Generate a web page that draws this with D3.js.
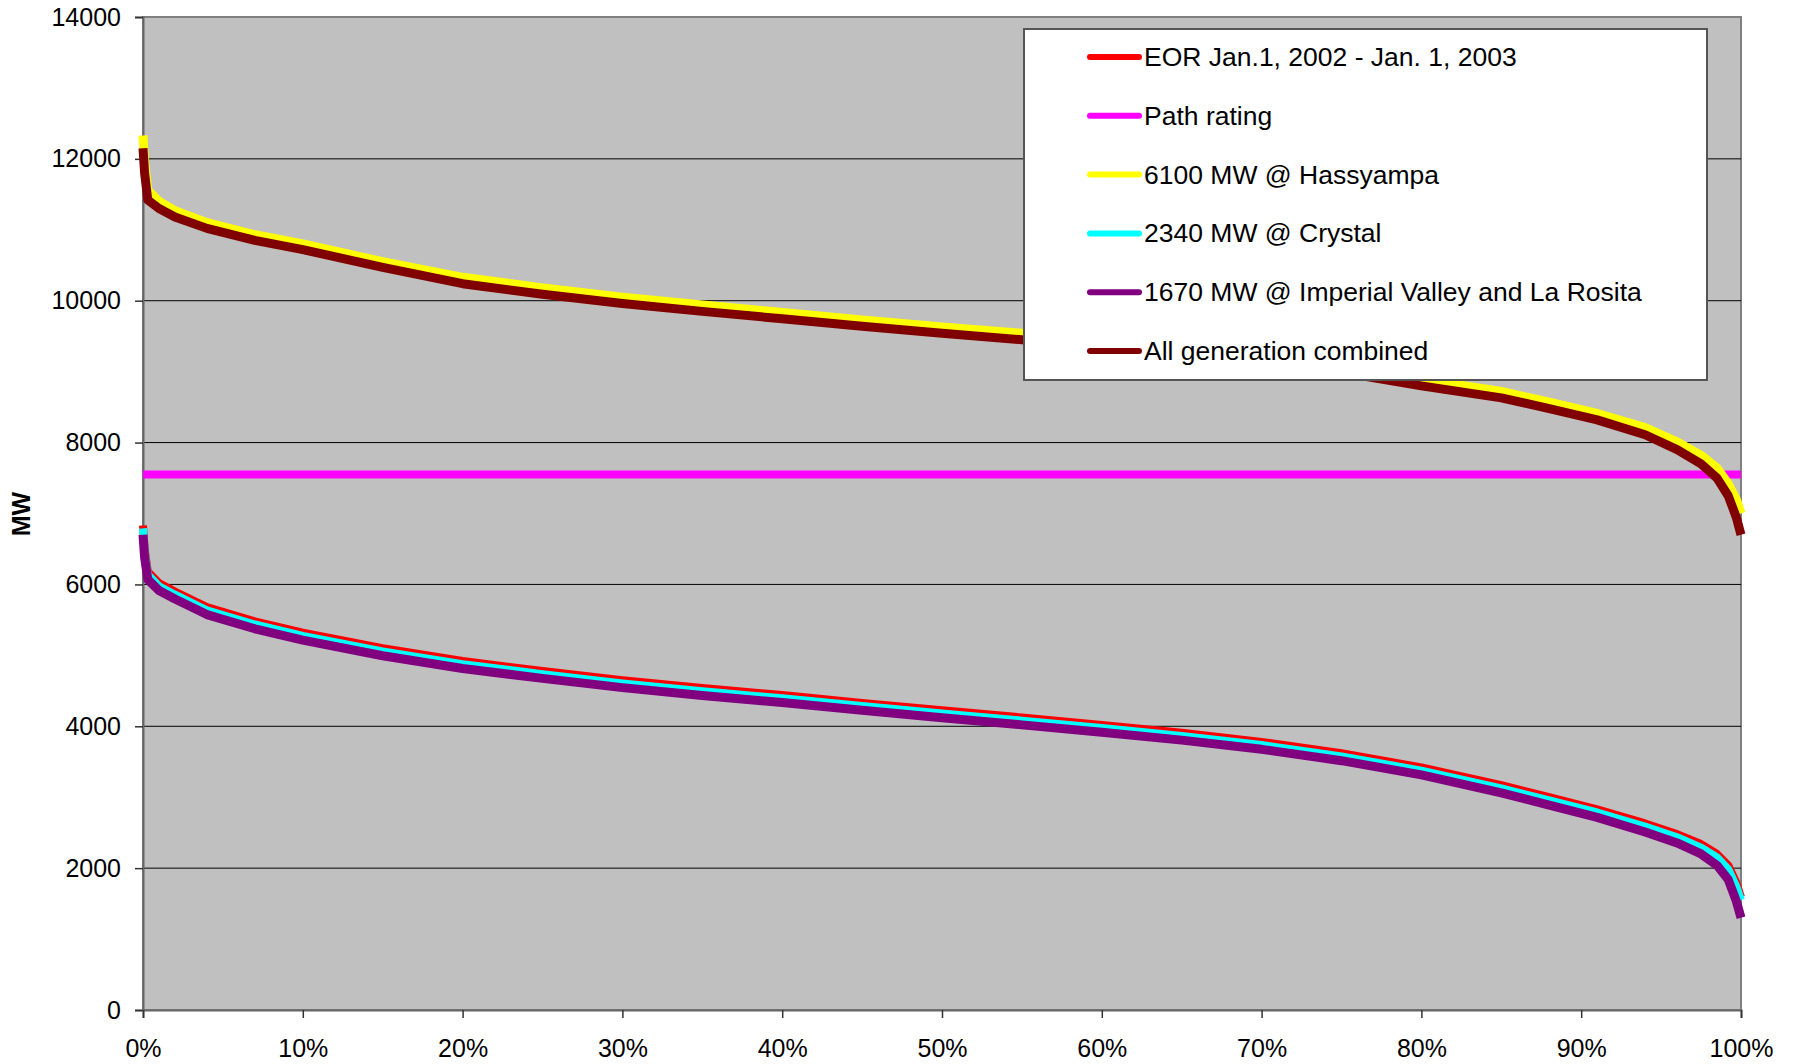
<!DOCTYPE html>
<html>
<head>
<meta charset="utf-8">
<script src="https://cdn.jsdelivr.net/npm/d3@7"></script>
<style>
body { margin:0; background:#fff; }
text { font-family: Arial, "Liberation Sans", sans-serif; }
</style>
</head>
<body>
<svg width="1794" height="1064"></svg>
<script>
// percent of hours (x) for every sampled point
var pct      = [0, 0.1, 0.3, 1, 2, 4, 7, 10, 15, 20, 25, 30, 35, 40, 45, 50, 55, 60, 65, 70, 75, 80, 85, 88, 91, 94, 96, 97.5, 98.5, 99.2, 99.7, 100];

var eor      = [6830, 6500, 6180, 6020, 5900, 5680, 5480, 5320, 5100, 4920, 4780, 4650, 4540, 4440, 4330, 4225, 4125, 4020, 3910, 3780, 3620, 3420, 3170, 3000, 2830, 2630, 2480, 2340, 2200, 2040, 1800, 1590];
var crystal  = [6790, 6460, 6140, 5975, 5855, 5635, 5435, 5275, 5055, 4875, 4735, 4605, 4495, 4395, 4285, 4180, 4080, 3975, 3865, 3735, 3575, 3375, 3125, 2955, 2785, 2585, 2435, 2290, 2150, 1985, 1745, 1550];
var imperial = [6700, 6380, 6070, 5915, 5795, 5575, 5375, 5215, 4995, 4815, 4675, 4545, 4435, 4335, 4225, 4120, 4020, 3915, 3805, 3675, 3515, 3315, 3060, 2890, 2715, 2510, 2355, 2200, 2040, 1840, 1540, 1300];
var hassy    = [12330, 11950, 11560, 11400, 11270, 11100, 10930, 10800, 10550, 10330, 10180, 10050, 9940, 9835, 9730, 9630, 9540, 9440, 9340, 9220, 9080, 8890, 8720, 8570, 8410, 8210, 8010, 7820, 7640, 7420, 7200, 7000];
var allGen   = [12150, 11800, 11420, 11300, 11180, 11020, 10850, 10720, 10470, 10240, 10090, 9960, 9850, 9745, 9640, 9540, 9450, 9350, 9250, 9130, 8990, 8800, 8630, 8480, 8320, 8110, 7900, 7700, 7500, 7250, 6950, 6700];
var pathRating = 7550;

var yTicks = [0, 2000, 4000, 6000, 8000, 10000, 12000, 14000];
var xTicks = [0, 10, 20, 30, 40, 50, 60, 70, 80, 90, 100];

var seriesNames = ["EOR Jan.1, 2002 - Jan. 1, 2003", "Path rating", "6100 MW @ Hassyampa", "2340 MW @ Crystal", "1670 MW @ Imperial Valley and La Rosita", "All generation combined"];
var seriesColors = ["#ff0000", "#ff00ff", "#ffff00", "#00ffff", "#800080", "#800000"];

var svg = d3.select("svg");

var x = d3.scaleLinear().domain([0, 100]).range([143, 1741]);
var y = d3.scaleLinear().domain([0, 14000]).range([1010, 17]);

// plot area
svg.append("rect")
	.attr("x", x(0)).attr("y", y(14000))
	.attr("width", x(100) - x(0)).attr("height", y(0) - y(14000))
	.attr("fill", "#c0c0c0")
	.attr("stroke", "#808080")
	.attr("stroke-width", 2);

// grid
svg.selectAll(".grid").data(yTicks.slice(1, -1))
	.enter().append("line")
	.attr("x1", x(0)).attr("x2", x(100))
	.attr("y1", function(d){ return y(d) }).attr("y2", function(d){ return y(d) })
	.attr("stroke", "#000").attr("stroke-width", 1);

var yAxis = svg.append("g")
	.attr("transform", "translate(" + x(0) + ",0)")
	.call(d3.axisLeft(y).tickValues(yTicks).tickSize(8).tickPadding(14).tickFormat(d3.format("d")));
var xAxis = svg.append("g")
	.attr("transform", "translate(0," + y(0) + ")")
	.call(d3.axisBottom(x).tickValues(xTicks).tickSize(8).tickPadding(21).tickFormat(function(d){ return d + "%" }));

[yAxis, xAxis].forEach(function(a){
	a.select(".domain").attr("stroke", "#666").attr("stroke-width", 2);
	a.selectAll(".tick line").attr("stroke", "#333").attr("stroke-width", 1.5);
	a.selectAll(".tick text").attr("font-size", 25).attr("fill", "#000")
		.style("font-family", "Arial, 'Liberation Sans', sans-serif");
});

svg.append("text")
	.attr("transform", "translate(30,514) rotate(-90)")
	.attr("text-anchor", "middle")
	.attr("font-size", 25).attr("font-weight", "bold")
	.text("MW");

// lines
var line = d3.line()
	.x(function(d){ return x(d[0]) })
	.y(function(d){ return y(d[1]) });

function pairs(vals){
	return pct.map(function(p, i){ return [p, vals[i]] });
}

var lines = [
	{ vals: pairs(eor), w: 8 },
	{ vals: [[0, pathRating], [100, pathRating]], w: 8 },
	{ vals: pairs(hassy), w: 9 },
	{ vals: pairs(crystal), w: 8 },
	{ vals: pairs(imperial), w: 9 },
	{ vals: pairs(allGen), w: 9 }
];

svg.append("g").selectAll("path").data(lines)
	.enter().append("path")
	.attr("fill", "none")
	.attr("stroke", function(d, i){ return seriesColors[i] })
	.attr("stroke-width", function(d){ return d.w })
	.attr("stroke-linejoin", "round")
	.attr("d", function(d){ return line(d.vals) });

// legend
var legend = svg.append("g");
legend.append("rect")
	.attr("x", 1024).attr("y", 29).attr("width", 683).attr("height", 351)
	.attr("fill", "#fff").attr("stroke", "#555").attr("stroke-width", 2);

var item = legend.selectAll(".item").data(seriesNames)
	.enter().append("g")
	.attr("transform", function(d, i){ return "translate(0," + (57 + i * 58.8) + ")" });

item.append("line")
	.attr("x1", 1090).attr("x2", 1139)
	.attr("y1", 0).attr("y2", 0)
	.attr("stroke", function(d, i){ return seriesColors[i] })
	.attr("stroke-width", 6)
	.attr("stroke-linecap", "round");

item.append("text")
	.attr("x", 1144).attr("y", 9)
	.attr("font-size", 26.5)
	.text(function(d){ return d });
</script>
</body>
</html>
